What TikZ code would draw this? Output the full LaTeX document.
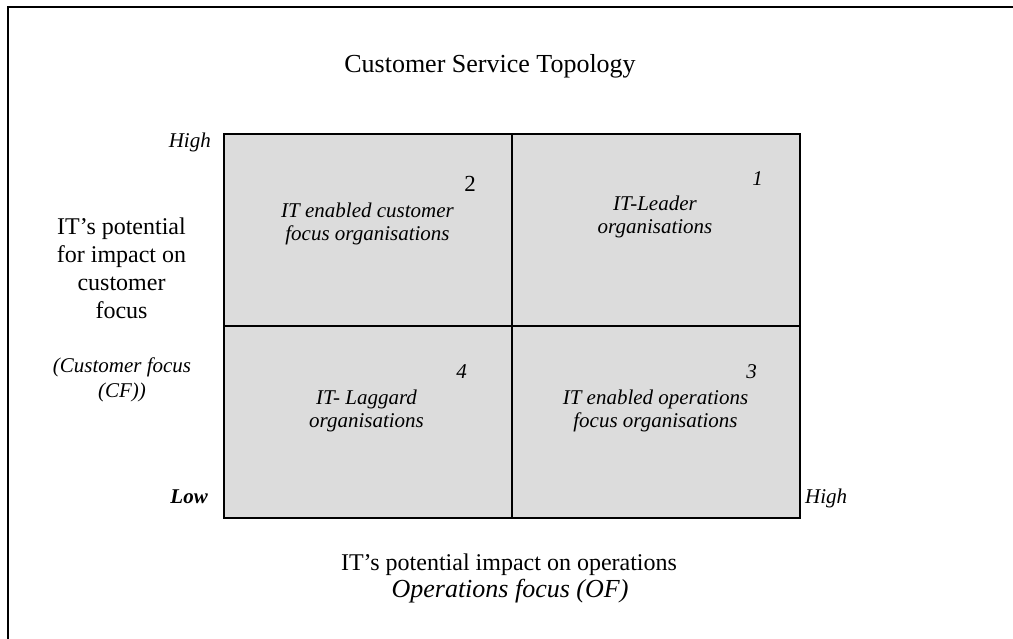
\documentclass[tikz,border=0pt]{standalone}
\usepackage{fontspec}
\setmainfont{Liberation Serif}
\usepackage{xcolor}
\definecolor{cellgray}{RGB}{220,220,220}

\begin{document}
\begin{tikzpicture}[x=1pt,y=-1pt,
    cell/.style={draw, line width=1.8pt, fill=cellgray, minimum width=288pt, minimum height=192pt, inner sep=0pt},
    lab/.style={inner sep=0pt, font=\fontsize{21}{23}\selectfont\itshape, align=center},
    axis/.style={inner sep=0pt, font=\fontsize{24}{27.7}\selectfont, align=center},
    num/.style={inner sep=0pt, anchor=base east, font=\fontsize{21}{23}\selectfont\itshape}]
        % Page and frame
        \useasboundingbox (0,0) rectangle (1013,639);
        \clip (0,0) rectangle (1013,639);
        \draw[line width=2pt] (8,7) rectangle (1040,670);
        % Quadrants
        \node[cell] (q2) at (368,230) {};
        \node[cell] (q1) at (656,230) {};
        \node[cell] (q4) at (368,422) {};
        \node[cell] (q3) at (656,422) {};
        % Title
        \node[inner sep=0pt, anchor=base, font=\fontsize{26}{30}\selectfont] (title) at (490,73) {Customer Service Topology};
        % Quadrant texts
        \node[lab] (t2) at (367.5,223.6) {IT enabled customer\\focus organisations};
        \node[lab] (t1) at (655,217.1) {IT-Leader\\organisations};
        \node[lab] (t4) at (366.5,410.6) {IT- Laggard\\organisations};
        \node[lab] (t3) at (655.5,410.6) {IT enabled operations\\focus organisations};
        \node[num, font=\fontsize{23}{25}\selectfont] (n2) at (476,192) {2};
        \node[num] (n1) at (763,186) {1};
        \node[num] (n4) at (467,378) {4};
        \node[num] (n3) at (757,378) {3};
        % Vertical axis
        \node[axis] (yaxis) at (121.5,268.3) {IT's potential\\for impact on\\customer\\focus};
        \node[lab, font=\fontsize{21}{25}\selectfont\itshape] (ycf) at (122,379.4) {(Customer focus\\(CF))};
        \node[lab, anchor=base east] (yhigh) at (211,148) {High};
        \node[lab, anchor=base east, font=\fontsize{21}{23}\selectfont\bfseries\itshape] (ylow) at (208,503) {Low};
        % Horizontal axis
        \node[lab, anchor=base west] (xhigh) at (805,503) {High};
        \node[inner sep=0pt, anchor=base, font=\fontsize{24}{27}\selectfont] (xaxis) at (509,570) {IT's potential impact on operations};
        \node[inner sep=0pt, anchor=base, font=\fontsize{26}{27}\selectfont\itshape] (xof) at (510,597) {Operations focus (OF)};
    \end{tikzpicture}
\end{document}
